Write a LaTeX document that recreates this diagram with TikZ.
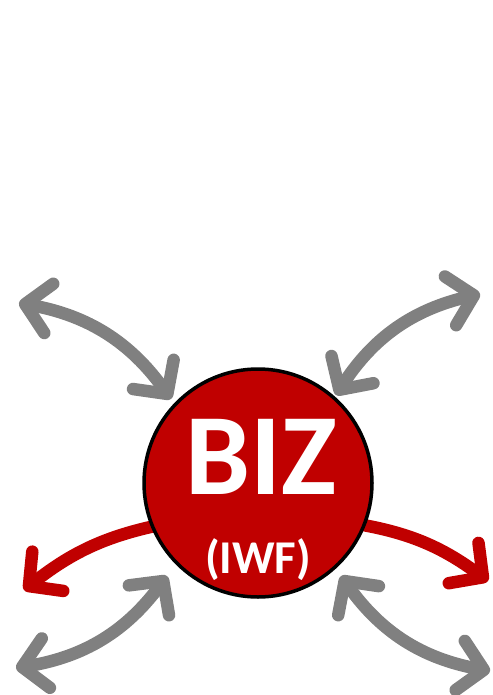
\documentclass[tikz,border=0pt]{standalone}
\usepackage{fontspec}
\setmainfont{Carlito}
\usetikzlibrary{arrows.meta}
\definecolor{bizred}{RGB}{192,0,0}
\definecolor{arrgray}{RGB}{128,128,128}
\tikzset{
  barb/.tip={Straight Barb[length=24pt,width=50pt,round]},
  grayarrow/.style={draw=arrgray,line width=12.5pt,line cap=round,barb-barb},
  redarrow/.style={draw=bizred,line width=12.5pt,line cap=round,-barb},
  hub/.style={circle,draw=black,line width=3.5pt,fill=bizred,minimum size=228pt,inner sep=0pt},
  bigtxt/.style={text=white,font=\fontsize{116}{116}\selectfont\bfseries,anchor=base,inner sep=0pt},
  smalltxt/.style={text=white,font=\fontsize{47}{47}\selectfont\bfseries,anchor=base,inner sep=0pt}
}
\begin{document}
\begin{tikzpicture}[x=1pt,y=-1pt]
\useasboundingbox (0,0) rectangle (492,695);
% end points
\coordinate (tlA) at (19,303);
\coordinate (tlB) at (171,399);
\coordinate (trA) at (480,294);
\coordinate (trB) at (336,395);
\coordinate (blA) at (167,576);
\coordinate (blB) at (16,668);
\coordinate (brA) at (341,576);
\coordinate (brB) at (490,671);
\coordinate (rlS) at (175,522);
\coordinate (rlT) at (24,590);
\coordinate (rrS) at (345,522);
\coordinate (rrT) at (488,581);
% arrows
\draw[grayarrow] (tlA) to[bend left=22] (tlB);
\draw[grayarrow] (trA) to[bend right=22] (trB);
\draw[grayarrow] (blA) to[bend left=22] (blB);
\draw[grayarrow] (brA) to[bend right=22] (brB);
\draw[redarrow] (rlS) to[bend right=14] (rlT);
\draw[redarrow] (rrS) to[bend left=14] (rrT);
% hub
\node[hub] (hub) at (258,483) {};
\node[bigtxt] (biz) at (261,494) {BIZ};
\node[smalltxt] (iwf) at (258,573) {(IWF)};
\end{tikzpicture}
\end{document}
